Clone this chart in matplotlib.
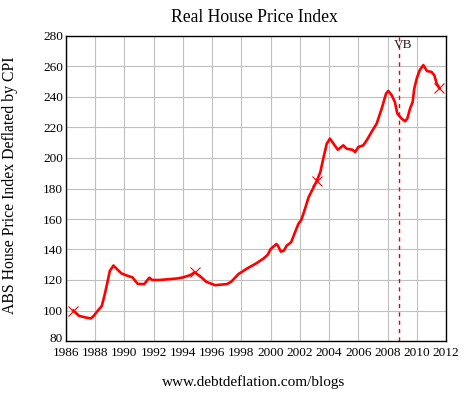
import matplotlib
matplotlib.use("Agg")
import matplotlib.pyplot as plt
import matplotlib.transforms as mtransforms

# datos (indice real, deflactado por IPC)
anios = [1986.5, 1986.9, 1987.3, 1987.7, 1987.9, 1988.1, 1988.45, 1988.65, 1988.8, 1989.0,
         1989.25, 1989.5, 1989.8, 1990.2, 1990.55, 1990.9, 1991.35, 1991.7, 1991.9, 1992.4,
         1993.0, 1993.6, 1994.0, 1994.5, 1994.8, 1995.2, 1995.6, 1996.2, 1997.0, 1997.3,
         1997.8, 1998.4, 1999.05, 1999.5, 1999.8, 2000.0, 2000.4, 2000.5, 2000.7, 2000.9,
         2001.1, 2001.4, 2001.67, 2001.9, 2002.1, 2002.35, 2002.6, 2002.9, 2003.15, 2003.4,
         2003.6, 2003.84, 2004.06, 2004.3, 2004.6, 2004.97, 2005.2, 2005.6, 2005.78, 2006.0,
         2006.34, 2006.6, 2006.9, 2007.26, 2007.6, 2007.9, 2008.05, 2008.28, 2008.5, 2008.67,
         2008.97, 2009.2, 2009.35, 2009.54, 2009.72, 2009.83, 2010.0, 2010.2, 2010.45, 2010.7,
         2011.0, 2011.2, 2011.36, 2011.55]
indice = [100, 96.5, 95.5, 94.8, 96.5, 99, 103, 110.5, 117, 126,
          129.5, 127, 124.3, 122.8, 121.7, 117.5, 117.3, 121.5, 120, 120,
          120.5, 121, 121.7, 123.2, 125, 122.3, 118.8, 116.6, 117.3, 118.8,
          123.9, 127.6, 131.1, 134, 136.5, 140.3, 143.6, 142.5, 138.6, 139.2,
          142.5, 144.7, 151.3, 156.8, 159.4, 166.6, 174.3, 180, 184.8, 190.7,
          199.5, 209.4, 212.7, 209.4, 205.4, 208.3, 206.1, 205.4, 203.9, 207.2,
          208.3, 212, 217, 222.6, 232.4, 242.3, 244, 241.2, 236.8, 229.1,
          225.8, 224.1, 225.8, 232.4, 236.8, 245.6, 252.2, 257.6, 260.9, 257,
          256.5, 254.3, 248.9, 245.8]
anios_marca = [1986.5, 1994.8, 2003.15, 2011.55]
anio_vb = 2008.8
ticks_x = list(range(1986, 2013, 2))
ticks_y = list(range(80, 281, 20))

plt.rcParams['font.family'] = ['Liberation Serif', 'DejaVu Serif']

fig = plt.figure(figsize=(4.67, 3.93), dpi=100)
ax = fig.add_axes([66/467, 1 - 341/393, 380/467, 305/393])

marcas = [anios.index(a) for a in anios_marca]
ax.plot(anios, indice, color='#ff0000', lw=1.9, marker='x', markevery=marcas,
        markersize=6.5, markeredgewidth=0.8, zorder=3)

ax.axvline(anio_vb, color='#ee0000', lw=1.0, ls=(0, (3, 3)), zorder=2)
ax.text(anio_vb - 0.36, 277.8, 'VB', ha='left', va='top', fontsize=9.5, color='#222222')

ax.set_xlim(1986, 2012)
ax.set_ylim(80, 280)
ax.set_xticks(ticks_x)
ax.set_yticks(ticks_y)
ax.tick_params(axis='y', length=0, labelsize=9.5, pad=2)
ax.tick_params(axis='x', length=0, labelsize=9.5, pad=4)
ax.grid(True, color='#c0c0c0', lw=0.8)
ax.set_axisbelow(True)
for s in ax.spines.values():
    s.set_linewidth(1.0)
    s.set_color('black')

# subimos un poco el "80" para que no pise el "1986"
lbl80 = ax.get_yticklabels()[0]
lbl80.set_transform(lbl80.get_transform() + mtransforms.ScaledTranslation(0, 3/100, fig.dpi_scale_trans))

fig.text(254/467, 1 - 17/393, 'Real House Price Index', ha='center', va='center', fontsize=12.7)
ax.set_ylabel('ABS House Price Index Deflated by CPI', fontsize=11.3)
ax.yaxis.set_label_coords(-0.126, 0.51)
fig.text(254/467, 1 - 382/393, 'www.debtdeflation.com/blogs', ha='center', va='center', fontsize=11)

fig.savefig('out.png', dpi=100)
